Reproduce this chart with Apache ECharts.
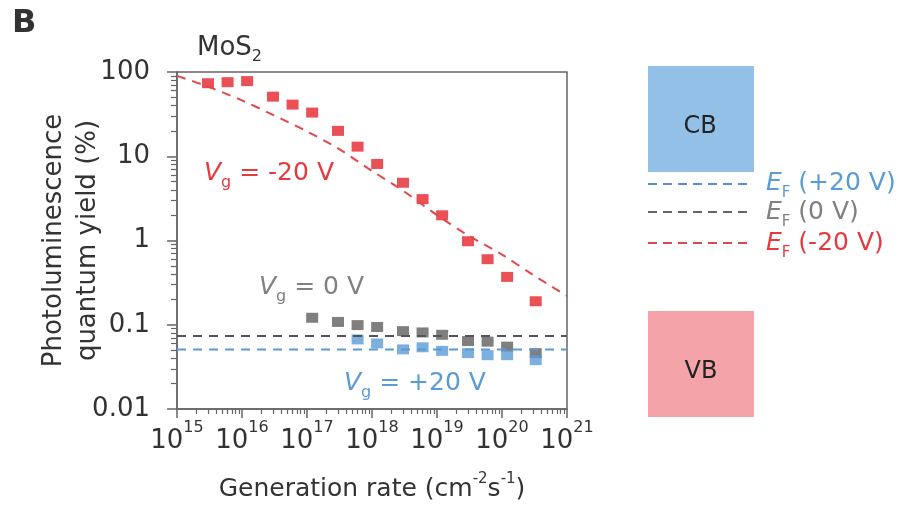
<!DOCTYPE html>
<html><head><meta charset="utf-8">
<script src="https://cdn.jsdelivr.net/npm/echarts@6/dist/echarts.min.js"></script>
<style>html,body{margin:0;padding:0;background:#fff}#c{width:910px;height:507px}</style>
</head><body><div id="c"></div>
<script>
// ---- data ----
const xDecades = [1e15, 1e16, 1e17, 1e18, 1e19, 1e20, 1e21];
const xTickExponents = ['15', '16', '17', '18', '19', '20', '21'];
const yDecades = [0.01, 0.1, 1, 10, 100];
const yTickLabels = ['0.01', '0.1', '1', '10', '100'];

const redX = [3e15, 6e15, 1.2e16, 3e16, 6e16, 1.2e17, 3e17, 6e17, 1.2e18, 3e18, 6e18, 1.2e19, 3e19, 6e19, 1.2e20, 3.3e20];
const redY = [73.6, 75.7, 78, 51, 41, 33, 20, 13, 8.1, 4.85, 3.1, 1.99, 0.98, 0.60, 0.37, 0.19];
const grayX = [1.2e17, 3e17, 6e17, 1.2e18, 3e18, 6e18, 1.2e19, 3e19, 6e19, 1.2e20, 3.3e20];
const grayY = [0.121, 0.108, 0.099, 0.094, 0.084, 0.081, 0.076, 0.064, 0.063, 0.055, 0.046];
const blueX = [6e17, 1.2e18, 3e18, 6e18, 1.2e19, 3e19, 6e19, 1.2e20, 3.3e20];
const blueY = [0.067, 0.060, 0.051, 0.054, 0.049, 0.046, 0.0435, 0.0435, 0.038];

const fitRedX = [1e15, 3e15, 1e16, 3e16, 1e17, 3e17, 1e18, 3e18, 1e19, 3e19, 1e20, 3e20, 1e21];
const fitRedY = [90, 67, 46, 31, 19.7, 12.4, 6.7, 3.9, 2.0, 1.15, 0.68, 0.39, 0.22];
const fitGrayX = [1e15, 1e21];
const fitGrayY = [0.0736, 0.0736];
const fitBlueX = [1e15, 1e21];
const fitBlueY = [0.051, 0.051];

// minor tick positions (2..9 x 10^n)
const xMinor = [];
xDecades.slice(0, -1).forEach(d => { for (let k = 2; k <= 9; k++) xMinor.push(k * d); });
const yMinor = [];
yDecades.slice(0, -1).forEach(d => { for (let k = 2; k <= 9; k++) yMinor.push(k * d); });

const zip = (a, b) => a.map((v, i) => [v, b[i]]);
// keep end values a hair inside the axis extent so they are not dropped
const inside = (arr, lo, hi) => arr.map(v => v >= hi ? v * 0.99999 : (v <= lo ? v * 1.00001 : v));

// ---- styles ----
const FONT = 'DejaVu Sans';
const AX = '#666';
const RED = '#e5242a', GRAY = '#5f5f5f', BLUE = '#5a9bd6';

const chart = echarts.init(document.getElementById('c'), null, {renderer: 'canvas'});

const baseX = {
  type: 'log', logBase: 10, min: 1e15, max: 1e21, gridIndex: 0, position: 'bottom',
  splitLine: {show: false}, minorTick: {show: false}, minorSplitLine: {show: false}
};
const baseY = {
  type: 'log', logBase: 10, min: 0.01, max: 100, gridIndex: 0, position: 'left',
  splitLine: {show: false}, minorTick: {show: false}, minorSplitLine: {show: false}
};

chart.setOption({
  animation: false,
  backgroundColor: '#fff',
  grid: {left: 177, top: 72, width: 390, height: 340, show: true, borderColor: AX, borderWidth: 1.5, containLabel: false},
  xAxis: [
    Object.assign({}, baseX, {
      axisLine: {show: true, lineStyle: {color: AX, width: 1.5}},
      axisTick: {show: true, inside: false, length: 9, customValues: inside(xDecades, 1e15, 1e21), lineStyle: {color: AX, width: 1.5}},
      axisLabel: {
        show: true, margin: 11, customValues: inside(xDecades, 1e15, 1e21), showMaxLabel: true, showMinLabel: true, hideOverlap: false,
        formatter: v => '{b|10}{s|' + xTickExponents[Math.round(Math.log10(v)) - 15] + '}',
        rich: {
          b: {fontFamily: FONT, fontSize: 26, color: '#333', lineHeight: 34, verticalAlign: 'bottom'},
          s: {fontFamily: FONT, fontSize: 16, color: '#333', lineHeight: 10, verticalAlign: 'top'}
        }
      },
      name: '{t|Generation rate (cm}{s|-2}{t|s}{s|-1}{t|)}',
      nameLocation: 'middle', nameGap: 63, nameMoveOverlap: false,
      nameTextStyle: {
        rich: {
          t: {fontFamily: FONT, fontSize: 25, color: '#333', lineHeight: 30, verticalAlign: 'bottom'},
          s: {fontFamily: FONT, fontSize: 15, color: '#333', lineHeight: 10, verticalAlign: 'top'}
        }
      }
    }),
    Object.assign({}, baseX, {
      axisLine: {show: false},
      axisTick: {show: true, inside: false, length: 5, customValues: xMinor, lineStyle: {color: AX, width: 1.2}},
      axisLabel: {show: false}
    })
  ],
  yAxis: [
    Object.assign({}, baseY, {
      axisLine: {show: true, lineStyle: {color: AX, width: 1.5}},
      axisTick: {show: true, inside: false, length: 10, customValues: inside(yDecades, 0.01, 100), lineStyle: {color: AX, width: 1.5}},
      axisLabel: {
        show: true, margin: 27, customValues: inside(yDecades, 0.01, 100), showMaxLabel: true, showMinLabel: true,
        formatter: v => yTickLabels[Math.round(Math.log10(v)) + 2],
        fontFamily: FONT, fontSize: 26, color: '#333'
      },
      name: 'Photoluminescence\nquantum yield (%)',
      nameLocation: 'middle', nameRotate: 90, nameGap: 72, nameMoveOverlap: false,
      nameTextStyle: {fontFamily: FONT, fontSize: 26, color: '#333', lineHeight: 34}
    }),
    Object.assign({}, baseY, {
      axisLine: {show: false},
      axisTick: {show: true, inside: false, length: 6, customValues: yMinor, lineStyle: {color: AX, width: 1.2}},
      axisLabel: {show: false}
    })
  ],
  series: [
    {type: 'scatter', name: 'Vg=-20V', xAxisIndex: 0, yAxisIndex: 0, data: zip(redX, redY),
      symbol: 'rect', symbolSize: [12, 10], itemStyle: {color: RED}, z: 2},
    {type: 'scatter', name: 'Vg=0V', xAxisIndex: 0, yAxisIndex: 0, data: zip(grayX, grayY),
      symbol: 'rect', symbolSize: [12, 10], itemStyle: {color: GRAY}, z: 2},
    {type: 'scatter', name: 'Vg=+20V', xAxisIndex: 0, yAxisIndex: 0, data: zip(blueX, blueY),
      symbol: 'rect', symbolSize: [12, 10], itemStyle: {color: BLUE}, z: 2},
    {type: 'line', name: 'fit -20V', xAxisIndex: 0, yAxisIndex: 0, data: zip(fitRedX, fitRedY), smooth: 0.3,
      showSymbol: false, lineStyle: {color: '#e2474c', width: 2, type: [9, 7]}, z: 3},
    {type: 'line', name: 'EF 0V', xAxisIndex: 0, yAxisIndex: 0, data: zip(fitGrayX, fitGrayY),
      showSymbol: false, lineStyle: {color: '#555', width: 2, type: [9, 7]}, z: 3},
    {type: 'line', name: 'EF +20V', xAxisIndex: 0, yAxisIndex: 0, data: zip(fitBlueX, fitBlueY),
      showSymbol: false, lineStyle: {color: '#5b9bd5', width: 2, type: [9, 7]}, z: 3}
  ],
  graphic: [
    {type: 'text', x: 12, y: 24, style: {text: 'B', font: 'bold 32px "DejaVu Sans"', fill: '#333', verticalAlign: 'middle'}},
    {type: 'text', x: 197, y: 50, style: {text: '{t|MoS}{s|2}', verticalAlign: 'middle',
      rich: {t: {fontFamily: FONT, fontSize: 26, fill: '#333', lineHeight: 30, verticalAlign: 'top'},
             s: {fontFamily: FONT, fontSize: 16, fill: '#333', lineHeight: 16, verticalAlign: 'bottom'}}}},
    {type: 'text', x: 204, y: 176, style: {text: '{v|V}{g|g}{t| = -20 V}', verticalAlign: 'middle',
      rich: {v: {fontFamily: FONT, fontStyle: 'italic', fontSize: 25, fill: '#e43a3f', lineHeight: 30, verticalAlign: 'top'},
             g: {fontFamily: FONT, fontSize: 16, fill: '#e43a3f', lineHeight: 16, verticalAlign: 'bottom'},
             t: {fontFamily: FONT, fontSize: 25, fill: '#e43a3f', lineHeight: 30, verticalAlign: 'top'}}}},
    {type: 'text', x: 259, y: 290, style: {text: '{v|V}{g|g}{t| = 0 V}', verticalAlign: 'middle',
      rich: {v: {fontFamily: FONT, fontStyle: 'italic', fontSize: 25, fill: '#808080', lineHeight: 30, verticalAlign: 'top'},
             g: {fontFamily: FONT, fontSize: 16, fill: '#808080', lineHeight: 16, verticalAlign: 'bottom'},
             t: {fontFamily: FONT, fontSize: 25, fill: '#808080', lineHeight: 30, verticalAlign: 'top'}}}},
    {type: 'text', x: 344, y: 386, style: {text: '{v|V}{g|g}{t| = +20 V}', verticalAlign: 'middle',
      rich: {v: {fontFamily: FONT, fontStyle: 'italic', fontSize: 25, fill: '#5b9bd5', lineHeight: 30, verticalAlign: 'top'},
             g: {fontFamily: FONT, fontSize: 16, fill: '#5b9bd5', lineHeight: 16, verticalAlign: 'bottom'},
             t: {fontFamily: FONT, fontSize: 25, fill: '#5b9bd5', lineHeight: 30, verticalAlign: 'top'}}}},
    // band diagram
    {type: 'rect', shape: {x: 648, y: 66, width: 106, height: 106}, style: {fill: '#93c0e6'}},
    {type: 'rect', shape: {x: 648, y: 311, width: 106, height: 106}, style: {fill: '#f4a3a8'}},
    {type: 'text', x: 700, y: 127, style: {text: 'CB', font: '24px "DejaVu Sans"', fill: '#222', align: 'center', verticalAlign: 'middle'}},
    {type: 'text', x: 701, y: 372, style: {text: 'VB', font: '24px "DejaVu Sans"', fill: '#222', align: 'center', verticalAlign: 'middle'}},
    {type: 'line', shape: {x1: 648, y1: 184, x2: 748, y2: 184}, style: {stroke: '#5b8fcc', lineWidth: 2, lineDash: [9, 6]}},
    {type: 'line', shape: {x1: 648, y1: 212, x2: 748, y2: 212}, style: {stroke: '#666', lineWidth: 2, lineDash: [9, 6]}},
    {type: 'line', shape: {x1: 648, y1: 243, x2: 748, y2: 243}, style: {stroke: '#e0474c', lineWidth: 2, lineDash: [9, 6]}},
    {type: 'text', x: 766, y: 186, style: {text: '{e|E}{f|F}{t| (+20 V)}', verticalAlign: 'middle',
      rich: {e: {fontFamily: FONT, fontStyle: 'italic', fontSize: 25, fill: '#5b9bd5', lineHeight: 30, verticalAlign: 'top'},
             f: {fontFamily: FONT, fontSize: 15, fill: '#5b9bd5', lineHeight: 14, verticalAlign: 'bottom'},
             t: {fontFamily: FONT, fontSize: 25, fill: '#5b9bd5', lineHeight: 30, verticalAlign: 'top'}}}},
    {type: 'text', x: 766, y: 215, style: {text: '{e|E}{f|F}{t| (0 V)}', verticalAlign: 'middle',
      rich: {e: {fontFamily: FONT, fontStyle: 'italic', fontSize: 25, fill: '#808080', lineHeight: 30, verticalAlign: 'top'},
             f: {fontFamily: FONT, fontSize: 15, fill: '#808080', lineHeight: 14, verticalAlign: 'bottom'},
             t: {fontFamily: FONT, fontSize: 25, fill: '#808080', lineHeight: 30, verticalAlign: 'top'}}}},
    {type: 'text', x: 766, y: 246, style: {text: '{e|E}{f|F}{t| (-20 V)}', verticalAlign: 'middle',
      rich: {e: {fontFamily: FONT, fontStyle: 'italic', fontSize: 25, fill: '#e43a3f', lineHeight: 30, verticalAlign: 'top'},
             f: {fontFamily: FONT, fontSize: 15, fill: '#e43a3f', lineHeight: 14, verticalAlign: 'bottom'},
             t: {fontFamily: FONT, fontSize: 25, fill: '#e43a3f', lineHeight: 30, verticalAlign: 'top'}}}}
  ]
});
</script></body></html>
